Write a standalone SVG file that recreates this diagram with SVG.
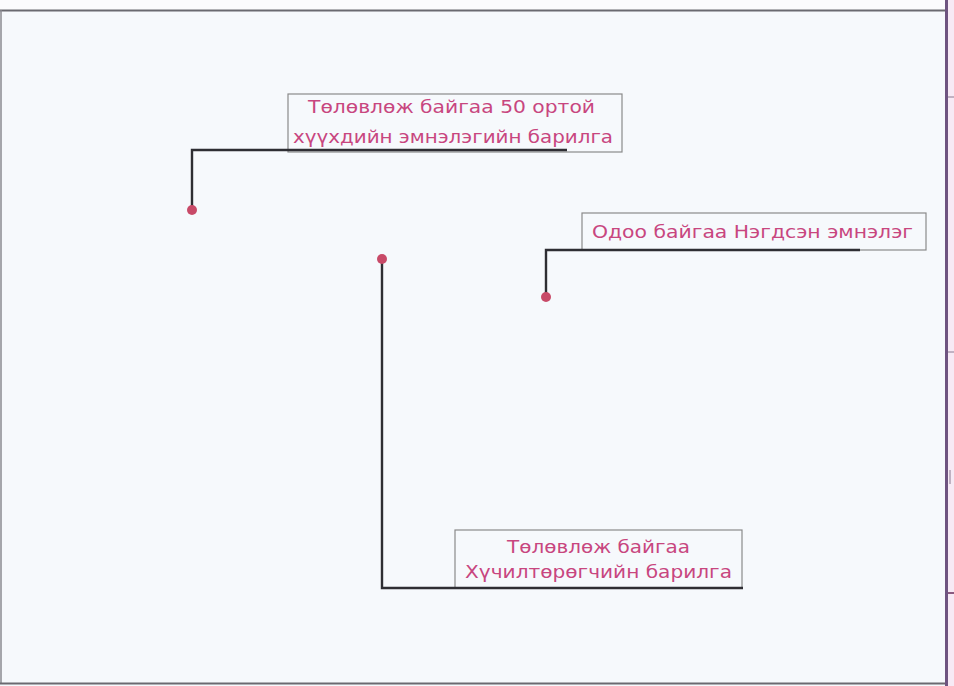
<svg xmlns="http://www.w3.org/2000/svg" width="954" height="686" viewBox="0 0 954 686">
<style>
.lbl{font-family:"DejaVu Sans","Liberation Sans",sans-serif;font-size:18px;fill:#c8467f;}
.box{fill:none;stroke:#8a8a8a;stroke-width:1.2;}
.lead{fill:none;stroke:#2e2e33;stroke-width:2.4;}
.dot{fill:#c84a68;}
.frame{stroke:#6a6a70;stroke-width:2;fill:none;}
</style>
<rect x="0" y="0" width="954" height="686" fill="#f6f9fc"/>
<rect x="0" y="0" width="954" height="10" fill="#fbfbfd"/>
<rect x="948" y="0" width="6" height="686" fill="#f7eaf5"/>
<g id="frame">
<line class="frame" x1="0" y1="10.5" x2="946" y2="10.5"/>
<line x1="1" y1="10" x2="1" y2="684" stroke="#8a8a90" stroke-width="1.5"/>
<line class="frame" x1="0" y1="683.5" x2="946" y2="683.5"/>
<line x1="946.5" y1="0" x2="946.5" y2="686" stroke="#6e5480" stroke-width="3"/>
<line x1="948" y1="97" x2="954" y2="97" stroke="#8a7a90" stroke-width="1"/>
<line x1="948" y1="352" x2="954" y2="352" stroke="#8a7a90" stroke-width="1"/>
<line x1="950" y1="470" x2="950" y2="484" stroke="#8a7a90" stroke-width="1"/>
<line x1="948" y1="593" x2="954" y2="593" stroke="#8a5a80" stroke-width="2"/>
</g>
<g id="node-children-hospital">
<rect class="box" x="288" y="94" width="334" height="58"/>
<text class="lbl" x="308" y="113" textLength="287" lengthAdjust="spacingAndGlyphs">Төлөвлөж байгаа 50 ортой</text>
<text class="lbl" x="293" y="143" textLength="320" lengthAdjust="spacingAndGlyphs">хүүхдийн эмнэлэгийн барилга</text>
</g>
<g id="node-general-hospital">
<rect class="box" x="582" y="213" width="344" height="37"/>
<text class="lbl" x="592" y="238" textLength="321" lengthAdjust="spacingAndGlyphs">Одоо байгаа Нэгдсэн эмнэлэг</text>
</g>
<g id="node-oxygen">
<rect class="box" x="455" y="530" width="287" height="58"/>
<text class="lbl" x="507" y="553" textLength="183" lengthAdjust="spacingAndGlyphs">Төлөвлөж байгаа</text>
<text class="lbl" x="465" y="578" textLength="267" lengthAdjust="spacingAndGlyphs">Хүчилтөрөгчийн барилга</text>
</g>
<g id="connectors">
<polyline class="lead" points="192,209 192,150 567,150"/>
<polyline class="lead" points="546,297 546,250 860,250"/>
<polyline class="lead" points="382,259 382,588 743,588"/>
<circle class="dot" cx="192" cy="210" r="5"/>
<circle class="dot" cx="546" cy="297" r="5"/>
<circle class="dot" cx="382" cy="259" r="5"/>
</g>
</svg>
